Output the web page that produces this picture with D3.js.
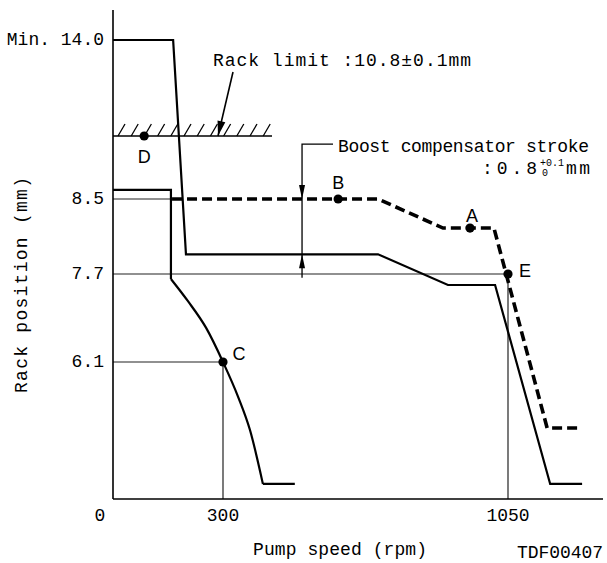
<!DOCTYPE html>
<html><head><meta charset="utf-8">
<script src="https://cdn.jsdelivr.net/npm/d3@7"></script>
<style>
html,body{margin:0;padding:0;background:#fff;}
svg{display:block;}
.mono{font-family:"Liberation Mono","DejaVu Sans Mono",monospace;font-size:18px;fill:#000;}
.pt{font-family:"Liberation Sans",Arial,sans-serif;font-size:18px;fill:#000;}
</style></head>
<body>
<svg id="chart" width="607" height="563"></svg>
<script>
// ---------- data ----------
const xTicks = [0, 300, 1050];
const xTickLabels = ["0", "300", "1050"];
const yTicks = [6.1, 7.7, 8.5, 14.0];
const yTickLabels = ["6.1", "7.7", "8.5", "Min. 14.0"];

// rpm, mm (schematic)
const startLine = [[0, 14.0], [164, 14.0], [199, 7.91], [708, 7.91], [892, 7.5], [1016, 7.5], [1161, 0.67], [1245, 0.67]];
const idleStep = [[0, 8.83], [158, 8.83], [158, 7.61]];
const idleCurve = [[158, 7.61], [204, 7.21], [254, 6.72], [300, 6.1], [340, 4.54], [371, 3.07], [405, 0.67]];
const idleFlat = [[405, 0.67], [489, 0.67]];
const boostLine = [[161, 8.5], [708, 8.5], [879, 8.19], [1013, 8.19], [1153, 3.16], [1245, 3.16]];
const rackLimit = 10.8;
const pointNames = ["A", "B", "C", "D", "E"];
const pointRpm = [950, 603, 300, 85, 1050];
const pointMm = [8.19, 8.5, 6.1, 10.8, 7.7];

// ---------- scales (schematic, piecewise) ----------
const x = d3.scaleLinear().domain([0, 300, 1050, 1300]).range([113, 223, 508, 603]);
const y = d3.scaleLinear().domain([0, 6.1, 7.7, 8.5, 10.8, 14.0, 15.0]).range([499, 362, 274, 199, 136, 40, 10]);

const svg = d3.select("#chart");
const line = d3.line().x(d => x(d[0])).y(d => y(d[1]));

// thin reference lines
const thin = svg.append("g").attr("stroke", "#222").attr("stroke-width", 1.2).attr("fill", "none");
thin.append("path").attr("d", line([[0, 8.5], [161, 8.5]]));
thin.append("path").attr("d", line([[0, 7.7], [1050, 7.7]]));
thin.append("path").attr("d", line([[0, 6.1], [300, 6.1]]));
thin.append("path").attr("d", line([[300, 6.1], [300, 0]]));
thin.append("path").attr("d", line([[1050, 7.7], [1050, 0]]));

// axes
const ax = svg.append("g").attr("stroke", "#000").attr("stroke-width", 1.6).attr("fill", "none");
ax.append("line").attr("x1", x(0)).attr("x2", x(0)).attr("y1", y(15)).attr("y2", y(0));
ax.append("line").attr("x1", x(0)).attr("x2", x(1300)).attr("y1", y(0)).attr("y2", y(0));

// tick labels
svg.selectAll(".xt").data(xTicks).enter().append("text")
  .attr("class", "mono")
  .attr("x", d => d === 0 ? x(d) - 13 : x(d))
  .attr("y", y(0) + 17)
  .attr("text-anchor", "middle").attr("dominant-baseline", "central")
  .text((d, i) => xTickLabels[i]);
svg.selectAll(".yt").data(yTicks).enter().append("text")
  .attr("class", "mono")
  .attr("x", 104)
  .attr("y", d => y(d))
  .attr("text-anchor", "end").attr("dominant-baseline", "central")
  .text((d, i) => yTickLabels[i]);

// axis titles
svg.append("text").attr("class", "mono")
  .attr("transform", "translate(22,285) rotate(-90)")
  .attr("text-anchor", "middle").attr("dominant-baseline", "central")
  .attr("textLength", 216).attr("lengthAdjust", "spacing")
  .text("Rack position (mm)");
svg.append("text").attr("class", "mono")
  .attr("x", 253).attr("y", 550).attr("dominant-baseline", "central")
  .attr("textLength", 174).attr("lengthAdjust", "spacing")
  .text("Pump speed (rpm)");
svg.append("text").attr("class", "mono")
  .attr("x", 517).attr("y", 553).attr("dominant-baseline", "central")
  .attr("textLength", 86).attr("lengthAdjust", "spacing")
  .text("TDF00407");

// curves
const thick = svg.append("g").attr("stroke", "#000").attr("stroke-width", 2.2).attr("fill", "none").attr("stroke-linejoin", "miter");
thick.append("path").attr("d", line(startLine));
thick.append("path").attr("d", line(idleStep));
thick.append("path").attr("d", line.curve(d3.curveMonotoneX)(idleCurve));
line.curve(d3.curveLinear);
thick.append("path").attr("d", line(idleFlat));
svg.append("path").attr("d", line(boostLine))
  .attr("stroke", "#000").attr("stroke-width", 3.6).attr("fill", "none")
  .attr("stroke-dasharray", "10,5");

// rack limit hatch
const yr = y(rackLimit);
svg.append("line").attr("x1", x(0)).attr("x2", x(429)).attr("y1", yr).attr("y2", yr)
  .attr("stroke", "#000").attr("stroke-width", 1.6);
const hatch = d3.range(12).map(i => 118 + i * 13.2);
svg.selectAll(".h").data(hatch).enter().append("line")
  .attr("x1", d => d).attr("y1", yr).attr("x2", d => d + 7).attr("y2", yr - 12)
  .attr("stroke", "#000").attr("stroke-width", 1.3);

function arrow(x1, y1, x2, y2, len, w) {
  const a = Math.atan2(y2 - y1, x2 - x1);
  const bx = x2 - len * Math.cos(a), by = y2 - len * Math.sin(a);
  const px = -Math.sin(a) * w / 2, py = Math.cos(a) * w / 2;
  svg.append("path").attr("d", `M${x2},${y2}L${bx + px},${by + py}L${bx - px},${by - py}Z`).attr("fill", "#000");
}
// rack limit leader
svg.append("line").attr("x1", 233).attr("y1", 72).attr("x2", 218).attr("y2", yr)
  .attr("stroke", "#000").attr("stroke-width", 1.6);
arrow(233, 72, 218, yr, 15, 8);
svg.append("text").attr("class", "mono")
  .attr("x", 213).attr("y", 61).attr("dominant-baseline", "central")
  .attr("textLength", 258).attr("lengthAdjust", "spacing")
  .text("Rack limit :10.8±0.1mm");

// boost compensator leader
const bx = x(508);
svg.append("path").attr("d", `M333,${y(10.5)}H${bx}V${y(7.63)}`)
  .attr("stroke", "#000").attr("stroke-width", 1.3).attr("fill", "none");
arrow(bx, y(10.5), bx, y(8.5), 14, 6);
arrow(bx, y(7.63), bx, y(7.91), 14, 6);
svg.append("text").attr("class", "mono")
  .attr("x", 338).attr("y", 147).attr("dominant-baseline", "central")
  .attr("textLength", 251).attr("lengthAdjust", "spacing")
  .text("Boost compensator stroke");
svg.append("text").attr("class", "mono")
  .attr("x", 482).attr("y", 169).attr("dominant-baseline", "central")
  .attr("textLength", 55).attr("lengthAdjust", "spacing")
  .text(":0.8");
svg.append("text").attr("class", "mono").style("font-size", "10px")
  .attr("x", 540).attr("y", 163).attr("dominant-baseline", "central")
  .text("+0.1");
svg.append("text").attr("class", "mono").style("font-size", "10px")
  .attr("x", 542).attr("y", 173).attr("dominant-baseline", "central")
  .text("0");
svg.append("text").attr("class", "mono")
  .attr("x", 566).attr("y", 169).attr("dominant-baseline", "central")
  .attr("textLength", 24).attr("lengthAdjust", "spacing")
  .text("mm");

// points & labels
const labelOff = {A: [2, -12], B: [0, -16], C: [16, -8], D: [0, 21], E: [17, -3]};
const pts = pointNames.map((n, i) => ({n, r: pointRpm[i], v: pointMm[i]}));
svg.selectAll(".p").data(pts).enter().append("circle")
  .attr("cx", d => x(d.r)).attr("cy", d => y(d.v)).attr("r", 4.6).attr("fill", "#000");
svg.selectAll(".pl").data(pts).enter().append("text")
  .attr("class", "pt")
  .attr("x", d => x(d.r) + labelOff[d.n][0]).attr("y", d => y(d.v) + labelOff[d.n][1])
  .attr("text-anchor", "middle").attr("dominant-baseline", "central")
  .text(d => d.n);
</script>
</body></html>
